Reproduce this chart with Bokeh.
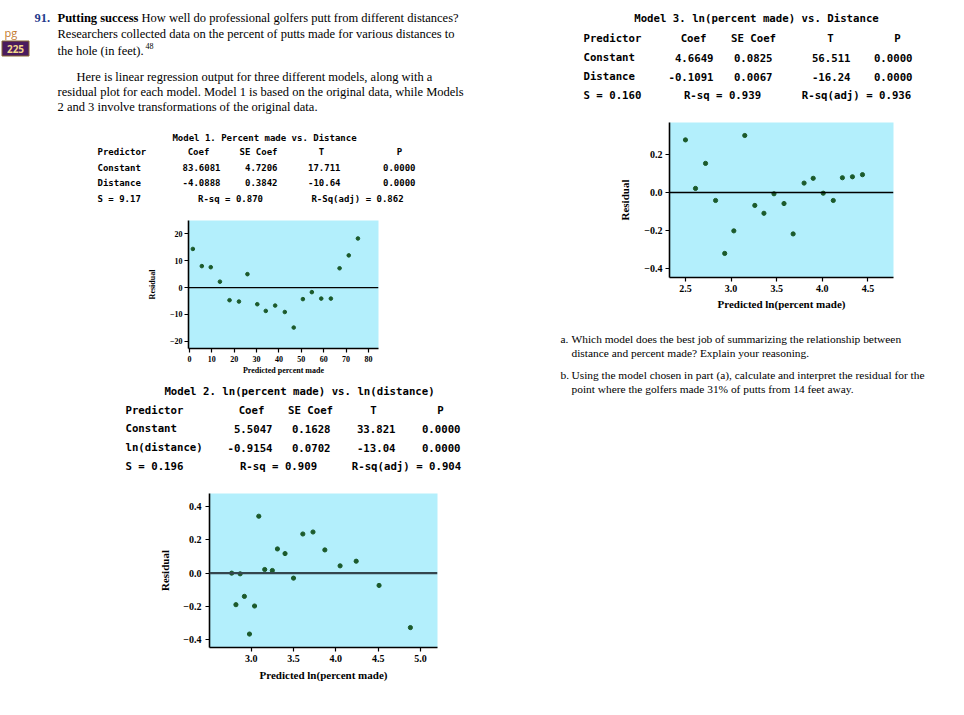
from bokeh.plotting import figure
from bokeh.models import Range1d, Span, FixedTicker, CustomJSTickFormatter
from bokeh.layouts import column, row
from bokeh.core.properties import value
from bokeh.embed import file_html
from bokeh.resources import INLINE

# ---------------- data ----------------
m1_fitted = [1.5, 5.5, 9.5, 13.6, 17.9, 22.1, 25.9, 30.3, 34.1, 38.3, 42.6, 46.6, 50.7, 54.7, 58.9, 63.2, 67.1, 71.2, 75.3]
m1_resid = [14.4, 8.0, 7.6, 2.2, -4.7, -5.2, 5.0, -6.2, -8.7, -6.7, -9.1, -14.9, -4.3, -1.7, -4.1, -4.1, 7.2, 12.0, 18.3]
m1_xticks = [0, 10, 20, 30, 40, 50, 60, 70, 80]
m1_yticks = [-20, -10, 0, 10, 20]

m2_fitted = [2.77, 2.82, 2.87, 2.92, 2.98, 3.04, 3.09, 3.16, 3.25, 3.31, 3.40, 3.50, 3.61, 3.73, 3.87, 4.05, 4.24, 4.51, 4.88]
m2_resid = [0.00, -0.19, -0.004, -0.14, -0.367, -0.198, 0.343, 0.022, 0.016, 0.146, 0.118, -0.03, 0.236, 0.248, 0.14, 0.044, 0.072, -0.074, -0.328]
m2_xticks = [3.0, 3.5, 4.0, 4.5, 5.0]
m2_yticks = [-0.4, -0.2, 0.0, 0.2, 0.4]

m3_fitted = [2.50, 2.61, 2.72, 2.83, 2.93, 3.03, 3.15, 3.26, 3.36, 3.47, 3.58, 3.68, 3.80, 3.90, 4.01, 4.12, 4.22, 4.33, 4.44]
m3_resid = [0.275, 0.021, 0.152, -0.042, -0.319, -0.201, 0.298, -0.068, -0.109, -0.007, -0.058, -0.217, 0.049, 0.074, -0.004, -0.042, 0.077, 0.082, 0.093]
m3_xticks = [2.5, 3.0, 3.5, 4.0, 4.5]
m3_yticks = [-0.4, -0.2, 0.0, 0.2]

m1_title = "Model 1. Percent made vs. Distance"
m1_header = ["Predictor", "Coef", "SE Coef", "T", "P"]
m1_rows = [["Constant", "83.6081", "4.7206", "17.711", "0.0000"],
           ["Distance", "-4.0888", "0.3842", "-10.64", "0.0000"]]
m1_summary = ["S = 9.17", "R-sq = 0.870", "R-Sq(adj) = 0.862"]

m2_title = "Model 2. ln(percent made) vs. ln(distance)"
m2_header = ["Predictor", "Coef", "SE Coef", "T", "P"]
m2_rows = [["Constant", "5.5047", "0.1628", "33.821", "0.0000"],
           ["ln(distance)", "-0.9154", "0.0702", "-13.04", "0.0000"]]
m2_summary = ["S = 0.196", "R-sq = 0.909", "R-sq(adj) = 0.904"]

m3_title = "Model 3. ln(percent made) vs. Distance"
m3_header = ["Predictor", "Coef", "SE Coef", "T", "P"]
m3_rows = [["Constant", "4.6649", "0.0825", "56.511", "0.0000"],
           ["Distance", "-0.1091", "0.0067", "-16.24", "0.0000"]]
m3_summary = ["S = 0.160", "R-sq = 0.939", "R-sq(adj) = 0.936"]

intro_lines = [
    "Researchers collected data on the percent of putts made for various distances to",
    "the hole (in feet).",
]
para_lines = [
    "Here is linear regression output for three different models, along with a",
    "residual plot for each model. Model 1 is based on the original data, while Models",
    "2 and 3 involve transformations of the original data.",
]
question_lines = [
    ("a.", "Which model does the best job of summarizing the relationship between"),
    ("", "distance and percent made? Explain your reasoning."),
    ("b.", "Using the model chosen in part (a), calculate and interpret the residual for the"),
    ("", "point where the golfers made 31% of putts from 14 feet away."),
]

SERIF = "Liberation Serif"
MONO = "DejaVu Sans Mono"
CYAN = "#b3effc"
DOT = "#1b5a2b"


def canvas(w, h):
    p = figure(width=w, height=h, x_range=Range1d(0, w), y_range=Range1d(h, 0),
               x_axis_type=None, y_axis_type=None, output_backend="svg",
               toolbar_location=None, min_border=0, frame_align=False)
    p.outline_line_color = None
    return p


def txt(p, off, x, y, s, size, font=SERIF, style="normal", color="black", align="left"):
    p.text(x=[x - off[0]], y=[y - off[1]], text=[s], text_font=value(font),
           text_font_size=value(f"{size}px"), text_font_style=style,
           text_color=color, text_align=align, text_baseline="middle")


def table(p, off, title, header, rows, summary, tcx, ys, left, hcx, vright, scx, size):
    txt(p, off, tcx, ys[0], title, size, MONO, "bold", align="center")
    txt(p, off, left, ys[1], header[0], size, MONO, "bold")
    for h, cx in zip(header[1:], hcx):
        txt(p, off, cx, ys[1], h, size, MONO, "bold", align="center")
    for r, yy in zip(rows, ys[2:4]):
        txt(p, off, left, yy, r[0], size, MONO, "bold")
        for v, rx in zip(r[1:], vright):
            txt(p, off, rx, yy, v, size, MONO, "bold", align="right")
    txt(p, off, left, ys[4], summary[0], size, MONO, "bold")
    txt(p, off, scx[0], ys[4], summary[1], size, MONO, "bold", align="center")
    txt(p, off, scx[1], ys[4], summary[2], size, MONO, "bold", align="center")


def fmt(decimals):
    return CustomJSTickFormatter(
        code=f"return (tick < 0 ? '\u2212' : '') + Math.abs(tick).toFixed({decimals});")


def resid_plot(w, h, xr, yr, xs, ys, xticks, yticks, xlabel, borders, xdec, ydec,
               tick_size, label_size, std, zero_color, zero_width, dot_size):
    bl, br, bt, bb = borders
    p = figure(width=w, height=h, x_range=Range1d(*xr), y_range=Range1d(*yr),
               output_backend="svg", toolbar_location=None, frame_align=False,
               min_border_left=bl, min_border_right=br, min_border_top=bt, min_border_bottom=bb)
    p.background_fill_color = CYAN
    p.border_fill_color = "white"
    p.outline_line_color = None
    p.grid.visible = False
    p.add_layout(Span(location=0, dimension="width", line_color=zero_color, line_width=zero_width))
    p.scatter(xs, ys, size=dot_size, color=DOT, marker="circle")
    for ax in (p.xaxis[0], p.yaxis[0]):
        ax.axis_line_width = 1.6
        ax.axis_line_color = "black"
        ax.major_tick_line_width = 1.2
        ax.major_tick_out = 4
        ax.major_tick_in = 0
        ax.minor_tick_line_color = None
        ax.major_label_text_font = SERIF
        ax.major_label_text_font_style = "bold"
        ax.major_label_text_font_size = f"{tick_size}px"
        ax.major_label_text_color = "black"
        ax.axis_label_text_font = SERIF
        ax.axis_label_text_font_style = "bold"
        ax.axis_label_text_font_size = f"{label_size}px"
        ax.axis_label_text_color = "black"
    p.xaxis[0].ticker = FixedTicker(ticks=xticks)
    p.yaxis[0].ticker = FixedTicker(ticks=yticks)
    p.xaxis[0].formatter = fmt(xdec)
    p.yaxis[0].formatter = fmt(ydec)
    p.xaxis[0].axis_label = xlabel
    p.yaxis[0].axis_label = "Residual"
    p.xaxis[0].major_label_standoff = std[0]
    p.xaxis[0].axis_label_standoff = std[1]
    p.yaxis[0].major_label_standoff = std[2]
    p.yaxis[0].axis_label_standoff = std[3]
    return p


LW = 548  # left column width
RW = 408  # right column width

# ---------------- left column ----------------
off = (0, 0)
header = canvas(LW, 125)
txt(header, off, 4, 32, "pg", 11, "Open Sans", "normal", "#c47a2e")
header.rect(x=[15 - off[0]], y=[48 - off[1]], width=27, height=15, fill_color="#4a1b5e", line_color="#8a6a30")
txt(header, off, 15, 48, "225", 10, "Open Sans", "bold", "#f3d98c", align="center")
txt(header, off, 34, 17, "91.", 12.5, SERIF, "bold", "#1f3c8c")
txt(header, off, 57, 17, "Putting success", 12.5, SERIF, "bold")
txt(header, off, 141, 17, "How well do professional golfers putt from different distances?", 12.5, SERIF)
txt(header, off, 57, 33, intro_lines[0], 12.5, SERIF)
txt(header, off, 57, 50, intro_lines[1], 12.5, SERIF)
txt(header, off, 145, 45, "48", 8, SERIF)
txt(header, off, 76, 76, para_lines[0], 12.5, SERIF)
txt(header, off, 57, 91, para_lines[1], 12.5, SERIF)
txt(header, off, 57, 106, para_lines[2], 12.5, SERIF)

off = (0, 125)
tab1 = canvas(LW, 85)
table(tab1, off, m1_title, m1_header, m1_rows, m1_summary, 264, [137, 151, 167, 182, 198],
      97, [198, 258, 321, 399], [220, 277, 340, 415], [230, 357], 9)

plot1 = resid_plot(LW, 170, (-0.45, 84.5), (-22.7, 25.0), m1_fitted, m1_resid,
                   m1_xticks, m1_yticks, "Predicted percent made", (188, 170, 10, 32), 0, 0,
                   8, 8, (3, 1, 2, 10), "black", 1.4, 3.6)

off = (0, 380)
tab2 = canvas(LW, 102)
table(tab2, off, m2_title, m2_header, m2_rows, m2_summary, 299, [391, 410, 428, 447, 466],
      125, [251, 310, 373, 440], [272, 330, 395, 460], [278, 406], 10.7)

plot2 = resid_plot(LW, 225, (2.508, 5.20), (-0.448, 0.48), m2_fitted, m2_resid,
                   m2_xticks, m2_yticks, "Predicted ln(percent made)", (209, 111, 11, 60), 1, 1,
                   10, 11, (3, 4, 4, 9), "#34464e", 2.2, 4.2)

# ---------------- right column ----------------
off = (LW, 0)
tab3 = canvas(RW, 112)
table(tab3, off, m3_title, m3_header, m3_rows, m3_summary, 756, [18, 38, 57, 76, 95],
      583, [693, 753, 830, 897], [713, 772, 850, 912], [722, 856], 10.7)

plot3 = resid_plot(RW, 210, (2.325, 4.78), (-0.445, 0.366), m3_fitted, m3_resid,
                   m3_xticks, m3_yticks, "Predicted ln(percent made)", (121, 63, 10, 45), 1, 1,
                   10, 11, (3, 3, 3, 10), "black", 1.4, 4.2)

off = (LW, 322)
quest = canvas(RW, 385)
for (lab, line), yy in zip(question_lines, [338, 352, 374, 388]):
    if lab:
        txt(quest, off, 560, yy, lab, 11.4, SERIF)
    txt(quest, off, 571, yy, line, 11.4, SERIF)

layout = row(column(header, tab1, plot1, tab2, plot2), column(tab3, plot3, quest))

open("out.html", "w").write(file_html(layout, INLINE))
